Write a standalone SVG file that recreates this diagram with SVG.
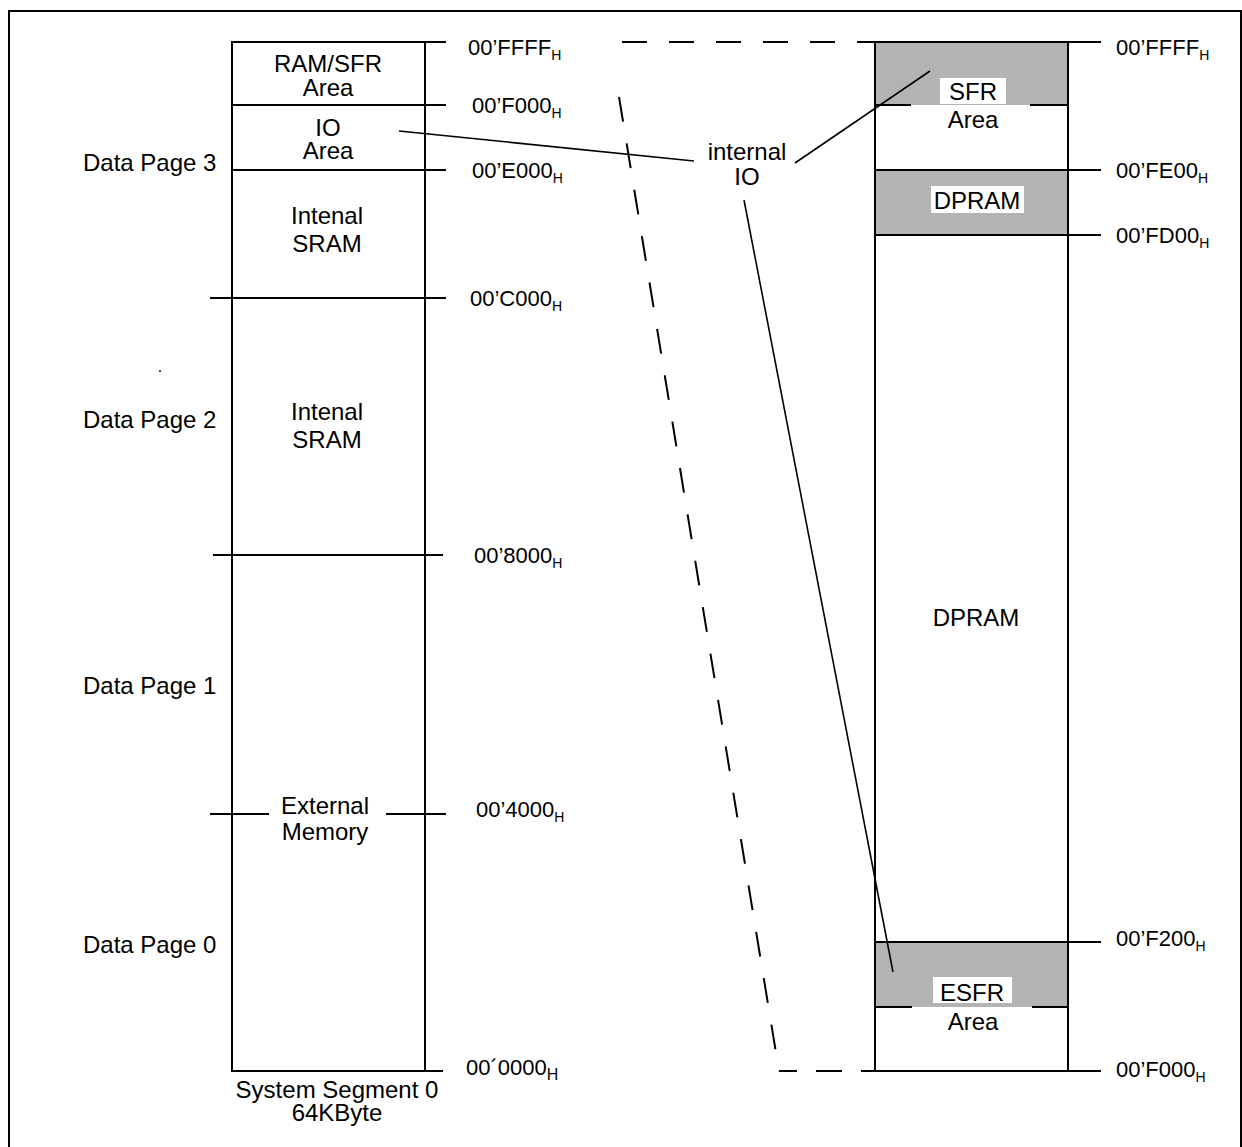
<svg xmlns="http://www.w3.org/2000/svg" width="1242" height="1147" viewBox="0 0 1242 1147">
<style>
text{font-family:"Liberation Sans",Arial,Helvetica,sans-serif;font-size:24px;fill:#000}
.c{text-anchor:middle}
.a{font-size:22px}
.sub{font-size:14px}
.ln{stroke:#000;stroke-width:2;fill:none}
.thin{stroke:#000;stroke-width:1.6;fill:none}
.dash{stroke:#000;stroke-width:2;fill:none;stroke-dasharray:25 22}
.gray{fill:#b3b3b3;stroke:none}
.wb{fill:#fff;stroke:none}
</style>
<rect x="0" y="0" width="1242" height="1147" fill="#fff"/>
<rect x="9" y="11" width="1232" height="1145" class="ln"/>

<g id="left-memory">
<rect x="232" y="42" width="193" height="1029" class="ln"/>
<line x1="232" y1="42" x2="446" y2="42" class="ln"/>
<line x1="232" y1="105" x2="446" y2="105" class="ln"/>
<line x1="232" y1="170" x2="446" y2="170" class="ln"/>
<line x1="210" y1="298" x2="446" y2="298" class="ln"/>
<line x1="213" y1="555" x2="443" y2="555" class="ln"/>
<line x1="210" y1="814" x2="269" y2="814" class="ln"/>
<line x1="386" y1="814" x2="446" y2="814" class="ln"/>
<line x1="232" y1="1071" x2="443" y2="1071" class="ln"/>
<circle cx="160" cy="371" r="0.9" fill="#000"/>
</g>

<g id="ram-sfr-area"><text x="328" y="72" class="c">RAM/SFR</text><text x="328" y="96" class="c">Area</text></g>
<g id="io-area"><text x="328" y="136" class="c">IO</text><text x="328" y="159" class="c">Area</text></g>
<g id="sram-dp3"><text x="327" y="224" class="c">Intenal</text><text x="327" y="252" class="c">SRAM</text></g>
<g id="sram-dp2"><text x="327" y="420" class="c">Intenal</text><text x="327" y="448" class="c">SRAM</text></g>
<g id="external-memory"><text x="325" y="814" class="c">External</text><text x="325" y="840" class="c">Memory</text></g>
<g id="segment-label"><text x="337" y="1098" class="c">System Segment 0</text><text x="337" y="1121" class="c">64KByte</text></g>

<g id="page-labels">
<text x="83" y="171">Data Page 3</text>
<text x="83" y="428">Data Page 2</text>
<text x="83" y="694">Data Page 1</text>
<text x="83" y="953">Data Page 0</text>
</g>

<g id="left-addresses" class="a">
<text x="468" y="55" class="a">00’FFFF<tspan class="sub" dy="5">H</tspan></text>
<text x="472" y="113" class="a">00’F000<tspan class="sub" dy="5">H</tspan></text>
<text x="472" y="178" class="a">00’E000<tspan class="sub" dy="5">H</tspan></text>
<text x="470" y="306" class="a">00’C000<tspan class="sub" dy="5">H</tspan></text>
<text x="474" y="563" class="a">00’8000<tspan class="sub" dy="5">H</tspan></text>
<text x="476" y="817" class="a">00’4000<tspan class="sub" dy="5">H</tspan></text>
<text x="466" y="1075" class="a">00´0000<tspan class="sub" dy="5" style="font-size:16px">H</tspan></text>
</g>

<g id="right-memory">
<rect x="875" y="42" width="193" height="63" class="gray"/>
<rect x="875" y="170" width="193" height="65" class="gray"/>
<rect x="875" y="942" width="193" height="65" class="gray"/>
<rect x="875" y="42" width="193" height="1029" class="ln"/>
<line x1="875" y1="42" x2="1101" y2="42" class="ln"/>
<line x1="875" y1="105" x2="911" y2="105" class="ln"/>
<line x1="1030" y1="105" x2="1068" y2="105" class="ln"/>
<line x1="875" y1="170" x2="1101" y2="170" class="ln"/>
<line x1="875" y1="235" x2="1101" y2="235" class="ln"/>
<line x1="875" y1="942" x2="1101" y2="942" class="ln"/>
<line x1="875" y1="1007" x2="912" y2="1007" class="ln"/>
<line x1="1032" y1="1007" x2="1068" y2="1007" class="ln"/>
<line x1="875" y1="1071" x2="1101" y2="1071" class="ln"/>
</g>

<g id="sfr-area"><rect x="940" y="78" width="66" height="26" class="wb"/><text x="973" y="100" class="c">SFR</text><text x="973" y="128" class="c">Area</text></g>
<g id="dpram-small"><rect x="931" y="186" width="93" height="27" class="wb"/><text x="977" y="209" class="c">DPRAM</text></g>
<g id="dpram-big"><text x="976" y="626" class="c">DPRAM</text></g>
<g id="esfr-area"><rect x="933" y="977" width="79" height="26" class="wb"/><text x="972" y="1001" class="c">ESFR</text><text x="973" y="1030" class="c">Area</text></g>
<g id="internal-io"><text x="747" y="160" class="c">internal</text><text x="747" y="185" class="c">IO</text></g>

<g id="right-addresses">
<text x="1116" y="55" class="a">00’FFFF<tspan class="sub" dy="5">H</tspan></text>
<text x="1116" y="178" class="a">00’FE00<tspan class="sub" dy="5">H</tspan></text>
<text x="1116" y="243" class="a">00’FD00<tspan class="sub" dy="5">H</tspan></text>
<text x="1116" y="946" class="a">00’F200<tspan class="sub" dy="5">H</tspan></text>
<text x="1116" y="1077" class="a">00’F000<tspan class="sub" dy="5">H</tspan></text>
</g>

<g id="connectors">
<line x1="622" y1="42" x2="875" y2="42" class="dash"/>
<line x1="619" y1="97" x2="779" y2="1071" class="dash"/>
<line x1="779" y1="1071" x2="797" y2="1071" class="ln"/>
<line x1="816" y1="1071" x2="842" y2="1071" class="ln"/>
<line x1="861" y1="1071" x2="875" y2="1071" class="ln"/>
<line x1="399" y1="131" x2="694" y2="161" class="thin"/>
<line x1="795" y1="163" x2="930" y2="71" class="thin"/>
<line x1="744" y1="200" x2="893" y2="972" class="thin"/>
</g>
</svg>
